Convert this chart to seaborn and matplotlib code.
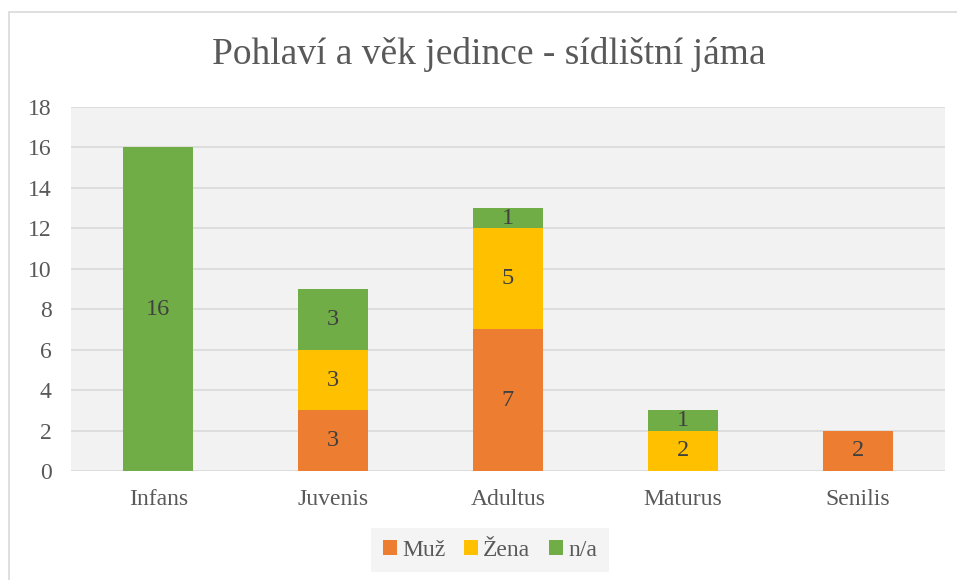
import numpy as np
import pandas as pd
import matplotlib
matplotlib.use("Agg")
import matplotlib.pyplot as plt
import seaborn as sns
from matplotlib.patches import Rectangle, Patch

# data
kategorie = ["Infans", "Juvenis", "Adultus", "Maturus", "Senilis"]
muz = [0, 3, 7, 0, 2]
zena = [0, 3, 5, 2, 0]
na = [16, 3, 1, 1, 0]
serie = ["Muž", "Žena", "n/a"]
barvy = ["#ED7D31", "#FFC000", "#70AD47"]

df = pd.DataFrame({"kategorie": kategorie, "Muž": muz, "Žena": zena, "n/a": na})
df["muz_zena"] = df["Muž"] + df["Žena"]
df["celkem"] = df["muz_zena"] + df["n/a"]

sns.set_theme(style="white")
plt.rcParams["font.family"] = ["Liberation Serif", "DejaVu Serif"]
text_col = "#595959"

fig = plt.figure(figsize=(9.57, 5.8), dpi=100)
ax = fig.add_axes([71 / 957, 1 - 471 / 580, 874 / 957, 364 / 580])
ax.set_facecolor("#F2F2F2")

# stacked bars by overlaying cumulative totals
for col, barva in zip(["celkem", "muz_zena", "Muž"], barvy[::-1]):
    sns.barplot(data=df, x="kategorie", y=col, color=barva, width=0.4,
                linewidth=0, saturation=1, ax=ax)

# segment labels
spodek = np.zeros(len(kategorie))
for s in serie:
    hodnoty = df[s].to_numpy()
    for i, v in enumerate(hodnoty):
        if v > 0:
            ax.text(i, spodek[i] + v / 2, str(v), ha="center", va="center",
                    fontsize=17.5, color="#404040")
    spodek += hodnoty

ax.set_ylim(0, 18)
ax.set_xlim(-0.5, len(kategorie) - 0.5)
ax.set_yticks(range(0, 19, 2))
ax.yaxis.grid(True, color="#D9D9D9", linewidth=1.2)
ax.set_axisbelow(True)
for sp in ax.spines.values():
    sp.set_visible(False)
ax.tick_params(axis="both", length=0, labelsize=17, colors=text_col)
ax.tick_params(axis="y", pad=14)
ax.tick_params(axis="x", pad=13)
ax.set_xlabel("")
ax.set_ylabel("")

fig.text(489 / 957, 1 - 55 / 580, "Pohlaví a věk jedince - sídlištní jáma",
         ha="center", va="center", fontsize=27, color=text_col)

handles = [Patch(facecolor=b, edgecolor="none") for b in barvy]
leg = fig.legend(handles, serie, loc="center", bbox_to_anchor=(490 / 957, 1 - 550 / 580),
                 ncol=3, frameon=True, fontsize=17, handlelength=0.6, handleheight=0.6,
                 handletextpad=0.2, columnspacing=0.8, borderpad=0.5)
leg.get_frame().set_facecolor("#F2F2F2")
leg.get_frame().set_edgecolor("none")
leg.get_frame().set_boxstyle("square", pad=0)
for t in leg.get_texts():
    t.set_color(text_col)

# chart border
fig.patches.append(Rectangle((9 / 957, -0.01), 1, 1 - 12 / 580 + 0.01, transform=fig.transFigure,
                             fill=False, edgecolor="#D9D9D9", linewidth=1.2))

fig.savefig("out.png", dpi=100)
